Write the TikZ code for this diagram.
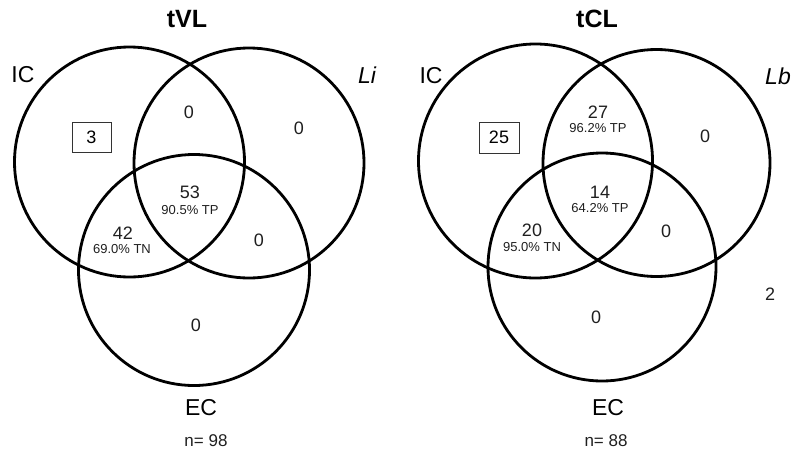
\documentclass[tikz,border=0pt]{standalone}
\usepackage{fontspec}
\setmainfont{Liberation Sans}
\begin{document}
\begin{tikzpicture}[x=1pt,y=-1pt,
  ring/.style={draw=black,line width=2.8pt},
  title/.style={font=\fontsize{25}{25}\selectfont\bfseries,inner sep=0pt},
  setlab/.style={font=\fontsize{23}{23}\selectfont,inner sep=0pt},
  num/.style={font=\fontsize{18}{18}\selectfont,inner sep=0pt,text=black!88},
  pct/.style={font=\fontsize{13}{13}\selectfont,inner sep=0pt,text=black!88},
  boxed/.style={draw=black!80,line width=1pt,minimum width=39pt,minimum height=30pt,inner sep=0pt,font=\fontsize{18}{18}\selectfont},
  nlab/.style={font=\fontsize{17}{17}\selectfont,inner sep=0pt,text=black!88}]
\useasboundingbox (0,0) rectangle (795,450);

% ---------- left: tVL ----------
\node[title] (t1) at (187,19) {tVL};
\draw[ring] (129.5,162) circle (115);
\draw[ring] (249,163) circle (115);
\draw[ring] (194,270) circle (115.5);
\node[setlab] (ic1) at (23,75) {IC};
\node[setlab] (li1) at (367,75) {\itshape Li};
\node[setlab] (ec1) at (201,408) {EC};
\node[nlab] (n1) at (206,441) {n= 98};
\node[boxed] (b1) at (91.5,137) {3};
\node[num] (a1) at (189,112) {0};
\node[num] (a2) at (299,128) {0};
\node[num] (a3) at (190,192) {53};
\node[pct] (p3) at (190,210) {90.5\% TP};
\node[num] (a4) at (123,233) {42};
\node[pct] (p4) at (122,249) {69.0\% TN};
\node[num] (a5) at (259,240) {0};
\node[num] (a6) at (196,325) {0};

% ---------- right: tCL ----------
\node[title] (t2) at (597,19) {tCL};
\draw[ring] (535.5,161) circle (117);
\draw[ring] (656.5,163) circle (113.5);
\draw[ring] (602,267) circle (114);
\node[setlab] (ic2) at (431,76) {IC};
\node[setlab] (lb2) at (778,76) {\itshape Lb};
\node[setlab] (ec2) at (608,408) {EC};
\node[nlab] (n2) at (606,441) {n= 88};
\node[boxed,minimum width=40pt,minimum height=31pt] (b2) at (499,137.5) {25};
\node[num] (c1) at (598,112) {27};
\node[pct] (q1) at (598,128) {96.2\% TP};
\node[num] (c2) at (705,136) {0};
\node[num] (c3) at (600,192) {14};
\node[pct] (q3) at (600,208) {64.2\% TP};
\node[num] (c4) at (532,230) {20};
\node[pct] (q4) at (532,247) {95.0\% TN};
\node[num] (c5) at (666,231) {0};
\node[num] (c6) at (596,317) {0};
\node[num] (c7) at (770,294) {2};
\end{tikzpicture}
\end{document}
